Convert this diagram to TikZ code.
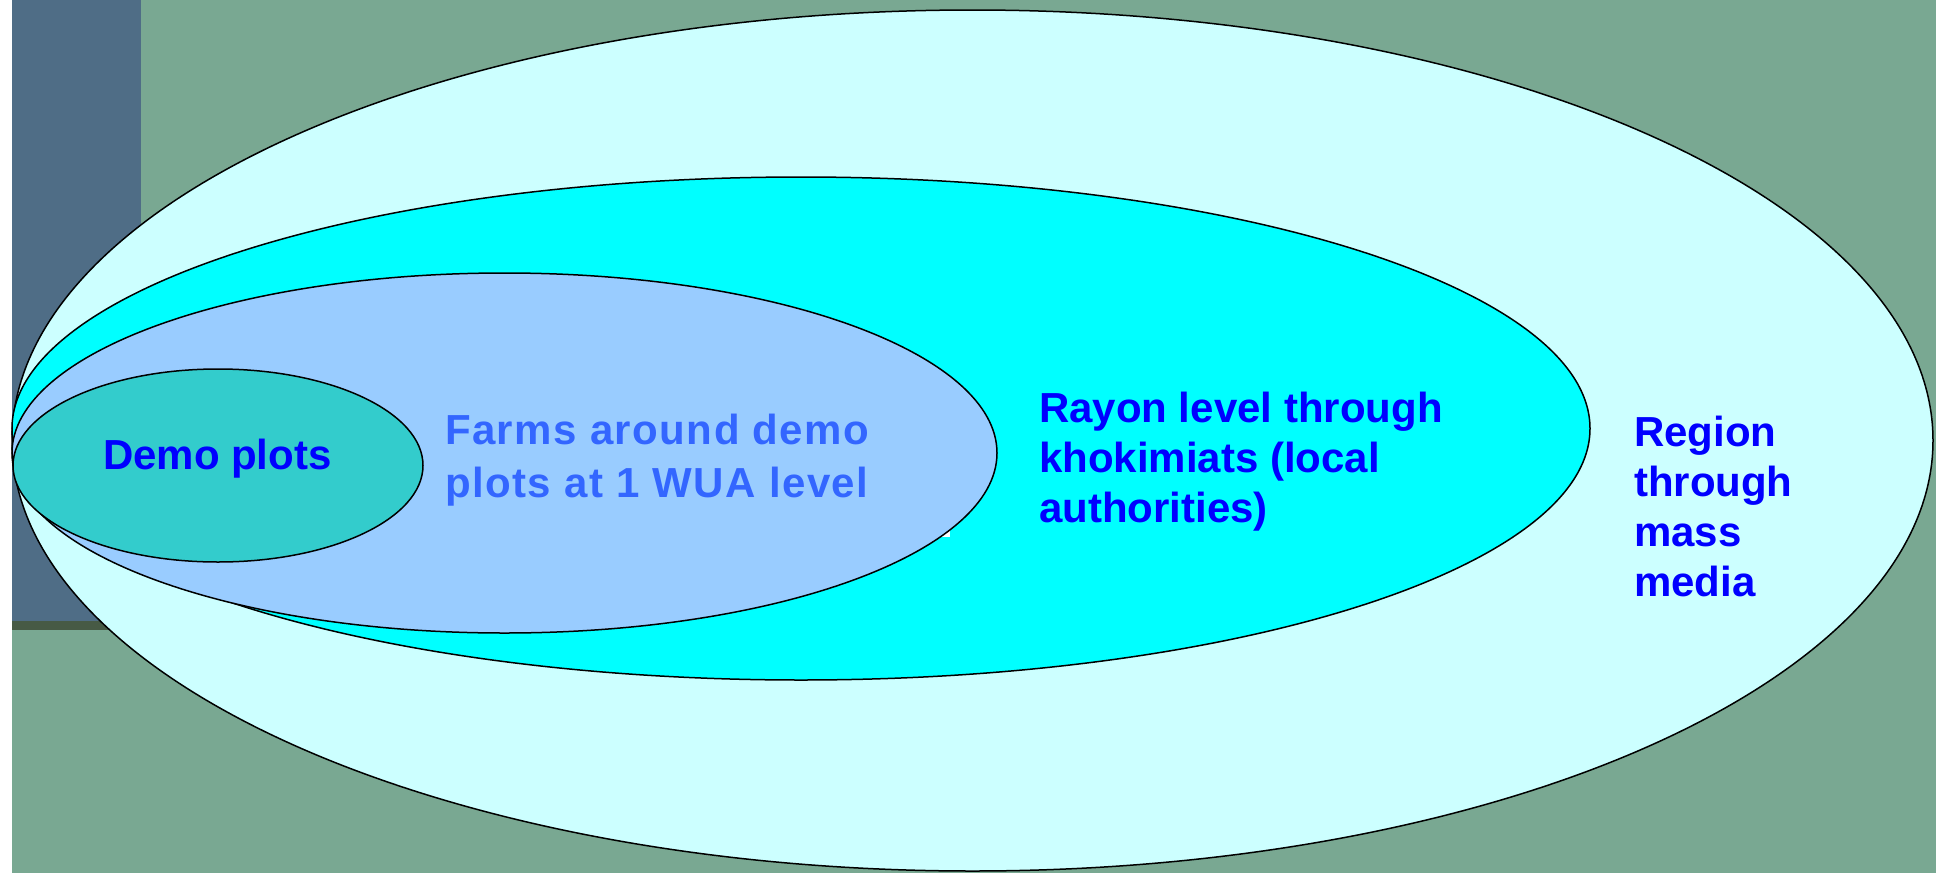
\documentclass[tikz,border=0pt]{standalone}
\usepackage{fontspec}
\setmainfont{Liberation Sans}
\newfontfamily\farmfont{Liberation Sans}[LetterSpace=3.5]
\usetikzlibrary{shapes.geometric}
\definecolor{bggreen}{RGB}{121,168,146}
\definecolor{darkbar}{RGB}{79,109,134}
\definecolor{darkline}{RGB}{71,90,69}
\definecolor{regionfill}{RGB}{204,255,255}
\definecolor{rayonfill}{RGB}{0,255,255}
\definecolor{farmfill}{RGB}{153,204,255}
\definecolor{demofill}{RGB}{51,204,204}
\definecolor{textblue}{RGB}{0,0,255}
\definecolor{farmblue}{RGB}{51,102,255}
\tikzset{
  ring/.style={ellipse, draw=black, line width=1.5pt, inner sep=0pt, outer sep=0pt},
  lbl/.style={inner sep=0pt, outer sep=0pt, font=\fontsize{42}{50}\selectfont\bfseries, text=textblue, align=left}
}
\begin{document}
\begin{tikzpicture}[x=1pt,y=-1pt]
\useasboundingbox (0,0) rectangle (1936,873);
\fill[bggreen] (0,0) rectangle (1936,873);
\fill[white] (0,0) rectangle (12,873);
\fill[darkbar] (12,0) rectangle (141,621);
\fill[darkline] (12,621) rectangle (141,630);
\node[ring, fill=regionfill, minimum width=1921pt, minimum height=861pt] (region) at (972.5,440.5) {};
\node[ring, fill=rayonfill, minimum width=1578pt, minimum height=503pt] (rayon) at (801,428.5) {};
\fill[white] (933,528) rectangle (950,537);
\node[ring, fill=farmfill, minimum width=985pt, minimum height=360pt] (farms) at (504.5,453) {};
\node[ring, fill=demofill, minimum width=410pt, minimum height=193pt] (demo) at (218,465.5) {};
\node[lbl, anchor=base west] (demotext) at (103,469) {Demo plots};
\node[lbl, anchor=north west, text=farmblue, font=\fontsize{42}{53}\selectfont\farmfont\bfseries] (farmtext) at (445,414) {Farms around demo\\plots at 1 WUA level};
\node[lbl, anchor=north west] (rayontext) at (1039,392) {Rayon level through\\khokimiats (local\\authorities)};
\node[lbl, anchor=north west] (regiontext) at (1634,416) {Region\\through\\mass\\media};
\end{tikzpicture}
\end{document}
